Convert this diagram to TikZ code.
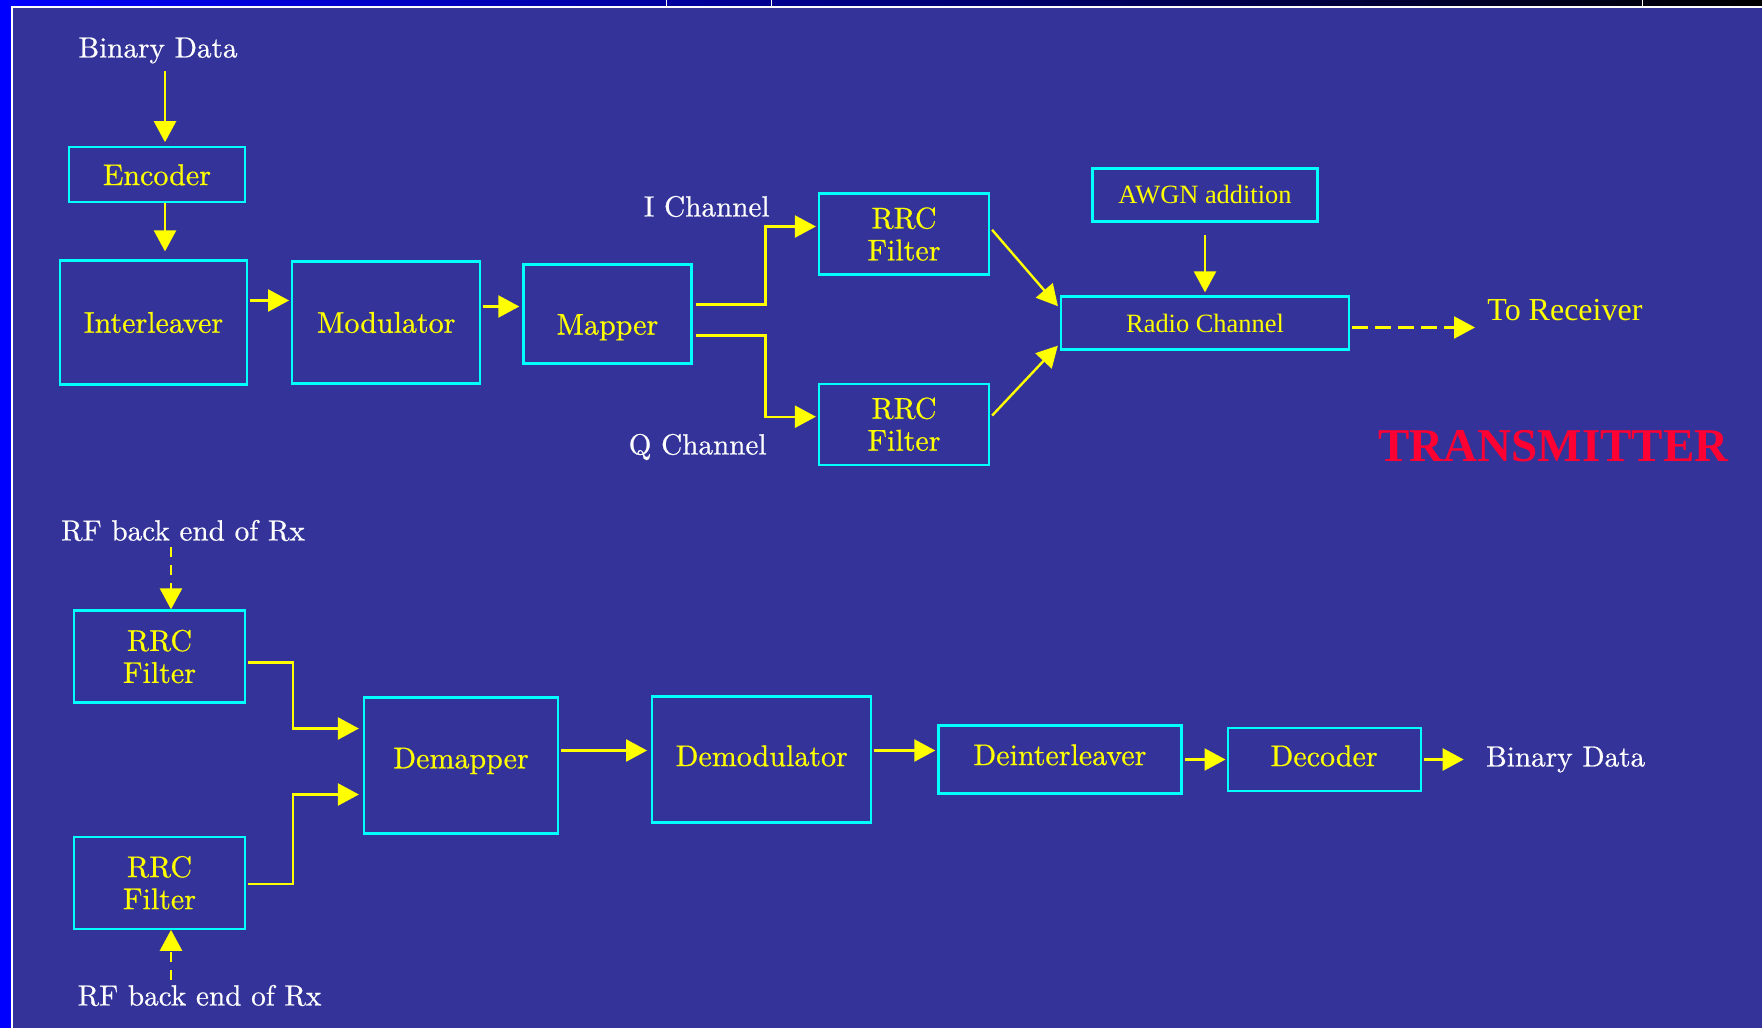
\documentclass[tikz,border=0pt]{standalone}
\usepackage{fontspec}
\newfontfamily\timesfont{Liberation Serif}
\newfontfamily\heavyfont{lmroman10-regular.otf}[FakeBold=0.6]
\usepackage{tikz}
\usetikzlibrary{arrows.meta,positioning}
\definecolor{slide}{RGB}{51,51,153}
\definecolor{boxcyan}{RGB}{0,255,255}
\definecolor{sigyellow}{RGB}{255,255,0}
\definecolor{txred}{RGB}{255,0,51}

\begin{document}
\begin{tikzpicture}
 [x=0.5pt, y=-0.5pt,
 block/.style={
  rectangle,
  draw=boxcyan,
  line width=1.1pt, % border
  text=sigyellow,
  inner sep=0pt,
  align=center,
  font=\heavyfont\fontsize{15}{16}\selectfont},
 note/.style={inner sep=0pt, text=white, font=\heavyfont\fontsize{14.6}{17}\selectfont},
 tnote/.style={block, font=\timesfont\fontsize{13.2}{15}\selectfont},
 tip/.style={-{Triangle[length=10.5pt,width=11pt]}, line width=1.2pt, draw=sigyellow},
 dtip/.style={tip, dash pattern=on 5pt off 4pt}]
% slide frame
\fill[blue] (0,0) rectangle (1762,1027);
\shade[left color=blue, right color=black] (0,0) rectangle (1762,7);
\foreach \x in {666,771,1642}
  \draw[white, line width=0.5pt] (\x,0) -- (\x,6);
\fill[white] (11,6) rectangle (1762,1027);
\fill[slide] (13,8) rectangle (1762,1027);
% transmitter
\node (bintop) [note] at (158,50) {Binary Data};
\node (interleaver) [block, minimum width=93.5pt, minimum height=62pt] at (153.5,322) {Interleaver};
\node (encoder) [block, minimum width=88pt, minimum height=27.5pt, above=28pt of interleaver, xshift=1.75pt] {Encoder};
\node (modulator) [block, minimum width=94pt, minimum height=61pt, right=21.5pt of interleaver] {Modulator};
\node (mapper) [block, minimum width=84pt, minimum height=49.5pt, right=20.5pt of modulator, yshift=4.25pt] {\raisebox{-10.3pt}[0pt][0pt]{Mapper}};
\node (rrcI) [block, minimum width=85pt, minimum height=40.5pt] at (904,233.5) {RRC\\Filter};
\node (rrcQ) [block, minimum width=85pt, minimum height=40.5pt, below=53.5pt of rrcI] {RRC\\Filter};
\node (ichan) [note, anchor=east] at (770,206) {I Channel};
\node (qchan) [note, anchor=east] at (767,446.5) {Q Channel};
\node (radio) [tnote, minimum width=144pt, minimum height=26.5pt] at (1205,322.5) {Radio Channel};
\node (awgn) [tnote, minimum width=112.5pt, minimum height=26.5pt, above=36.4pt of radio] {AWGN addition};
\node (toRx) [note, anchor=west, text=sigyellow, font=\timesfont\fontsize{16}{18}\selectfont] at (1487,310) {To Receiver};
\node (tx) [note, text=txred, font=\timesfont\bfseries\fontsize{23.5}{25}\selectfont] at (1553.5,446) {TRANSMITTER};
% receiver
\node (rfA) [note] at (183,530) {RF back end of Rx};
\node (rrcA) [block, minimum width=85.5pt, minimum height=46pt] at (159.5,656) {RRC\\Filter};
\node (rrcB) [block, minimum width=85.5pt, minimum height=46pt, below=66pt of rrcA] {RRC\\Filter};
\node (rfB) [note] at (199.5,995) {RF back end of Rx};
\node (demapper) [block, minimum width=97pt, minimum height=68pt] at (461,765) {\raisebox{-1.4pt}[0pt][0pt]{Demapper}};
\node (demod) [block, minimum width=109.5pt, minimum height=63pt, right=46pt of demapper, yshift=3pt] {\raisebox{-3.3pt}[0pt][0pt]{Demodulator}};
\node (deint) [block, minimum width=121.5pt, minimum height=34pt, right=32.5pt of demod] {\raisebox{-2.8pt}[0pt][0pt]{Deinterleaver}};
\node (decoder) [block, minimum width=96.5pt, minimum height=31.5pt, right=22pt of deint] {\raisebox{-3.3pt}[0pt][0pt]{Decoder}};
\node (binbot) [note, right=32pt of decoder] {Binary Data};
% transmitter links
\draw[tip, shorten <=3.5pt, shorten >=2pt] ([xshift=3.5pt]bintop.south) -- ([xshift=4pt]encoder.north);
\draw[tip, shorten >=4pt] ([xshift=4pt]encoder.south) -- ([xshift=5.75pt]interleaver.north);
\draw[tip, shorten <=1pt, shorten >=1pt] ([yshift=11pt]interleaver.east) -- ([yshift=11pt]modulator.west);
\draw[tip, shorten <=1pt, shorten >=1.5pt] ([yshift=8pt]modulator.east) -- ([yshift=3.75pt]mapper.west);
\draw[tip, shorten <=1.5pt, shorten >=1pt] ([yshift=4.75pt]mapper.east) -- ++(36.5pt,0) |- ([yshift=3.75pt]rrcI.west);
\draw[tip, shorten <=1.5pt, shorten >=1pt] ([yshift=-10.75pt]mapper.east) -- ++(36.5pt,0) |- ([yshift=3.75pt]rrcQ.west);
\draw[tip, shorten <=1.5pt, shorten >=1.5pt] ([yshift=3.25pt]rrcI.east) -- ([yshift=7.25pt]radio.west);
\draw[tip, shorten <=1.5pt, shorten >=1.5pt] ([yshift=3.25pt]rrcQ.east) -- ([yshift=-10.25pt]radio.west);
\draw[tip, shorten <=6pt, shorten >=1.5pt] (awgn) -- (radio);
\coordinate (rxout) at ([yshift=-2.25pt]radio.east);
\draw[tip, dash pattern=on 8pt off 3.5pt, shorten <=1pt, shorten >=6pt] (rxout) -- (rxout -| toRx.west);
% receiver links
\draw[dtip, shorten <=2.5pt] ([xshift=-6pt]rfA.south) -- ([xshift=5.75pt]rrcA.north);
\draw[dtip, shorten <=2pt] ([xshift=-14.25pt]rfB.north) -- ([xshift=5.75pt]rrcB.south);
\draw[tip, shorten <=1pt, shorten >=2pt] ([yshift=-3pt]rrcA.east) -- ++(23.5pt,0) |- ([yshift=18.5pt]demapper.west);
\draw[tip, shorten <=1pt, shorten >=2pt] ([yshift=-0.5pt]rrcB.east) -- ++(23.5pt,0) |- ([yshift=-14.5pt]demapper.west);
\draw[tip, shorten <=1pt, shorten >=2pt] ([yshift=7.5pt]demapper.east) -- ([yshift=4.5pt]demod.west);
\draw[tip, shorten <=1pt, shorten >=1pt] ([yshift=4.5pt]demod.east) -- ([yshift=4.5pt]deint.west);
\draw[tip, shorten <=1pt, shorten >=0.5pt] (deint) -- (decoder);
\draw[tip, shorten <=1pt, shorten >=11pt] (decoder) -- (binbot);
\end{tikzpicture}
\end{document}
